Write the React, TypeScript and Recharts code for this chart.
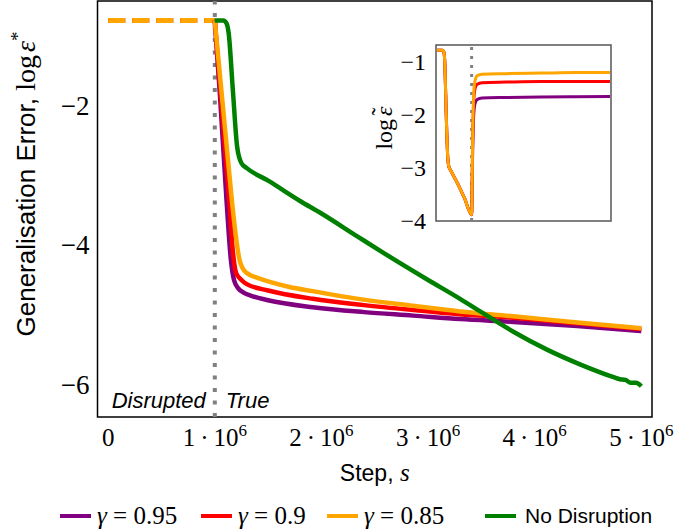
import React from 'react';
import { LineChart, Line, XAxis, YAxis, ReferenceLine, ReferenceArea, Label } from 'recharts';

// steps are in units of 10^6
const xTicks = [0, 1, 2, 3, 4, 5];
const yTicks = [-6, -4, -2];
const insetYTicks = [-4, -3, -2, -1];

// disrupted phase (same for every gamma)
const disruptedSteps = [0, 1];
const disruptedErr = [-0.79, -0.79];

// true phase, main plot
const gamma95Steps = [1.0, 1.05, 1.11, 1.15, 1.18, 1.22, 1.27, 1.35, 1.5, 1.92, 2.4, 2.86, 3.3, 3.8, 4.4, 5.0];
const gamma95Err = [-0.79, -1.9, -3.36, -4.2, -4.5, -4.62, -4.68, -4.73, -4.79, -4.89, -4.96, -5.01, -5.06, -5.1, -5.16, -5.23];

const gamma90Steps = [1.0, 1.05, 1.1, 1.135, 1.17, 1.2, 1.25, 1.3, 1.5, 1.92, 2.4, 2.86, 3.3, 3.8, 4.4, 5.0];
const gamma90Err = [-0.79, -1.75, -2.7, -3.36, -4.1, -4.4, -4.5, -4.56, -4.65, -4.77, -4.86, -4.93, -4.99, -5.04, -5.12, -5.2];

const gamma85Steps = [1.0, 1.05, 1.1, 1.16, 1.2, 1.23, 1.26, 1.3, 1.4, 1.5, 1.7, 1.92, 2.3, 2.86, 3.3, 3.8, 4.4, 5.0];
const gamma85Err = [-0.79, -1.6, -2.4, -3.36, -3.9, -4.2, -4.33, -4.4, -4.47, -4.52, -4.6, -4.66, -4.76, -4.87, -4.95, -5.02, -5.11, -5.19];

const noDisruptionSteps = [1.0, 1.08, 1.11, 1.13, 1.17, 1.21, 1.25, 1.3, 1.5, 1.8, 2.0, 2.34, 2.6, 3.0, 3.3, 3.5, 3.8, 4.12, 4.43, 4.74, 4.8, 4.85, 4.9, 4.95, 5.0];
const noDisruptionErr = [-0.79, -0.79, -0.83, -0.97, -1.8, -2.6, -2.83, -2.9, -3.08, -3.37, -3.55, -3.88, -4.13, -4.5, -4.77, -4.96, -5.24, -5.5, -5.71, -5.89, -5.92, -5.93, -5.97, -5.97, -6.02];

// inset: error w.r.t. the disrupted teacher
const insetDisSteps = [0, 0.15, 0.19, 0.22, 0.25, 0.28, 0.31, 0.34, 0.4, 0.6, 0.8, 1.0];
const insetDisErr = [-0.78, -0.78, -0.8, -0.95, -1.6, -2.3, -2.8, -2.97, -3.05, -3.3, -3.58, -3.88];
const insetTrueSteps = [1.0, 1.03, 1.06, 1.1, 1.16, 1.3, 2, 3, 4, 5];
const insetGamma95Err = [-3.88, -2.7, -2.0, -1.78, -1.71, -1.68, -1.67, -1.66, -1.655, -1.65];
const insetGamma90Err = [-3.88, -2.5, -1.75, -1.5, -1.42, -1.39, -1.38, -1.37, -1.37, -1.37];
const insetGamma85Err = [-3.88, -2.4, -1.6, -1.35, -1.26, -1.23, -1.22, -1.21, -1.2, -1.2];

const PURPLE = '#800080';
const RED = '#ff0000';
const ORANGE = '#ffa500';
const GREEN = '#008000';
const GREY = '#808080';
const SERIF = 'Liberation Serif, Times New Roman, serif';
const SANS = 'Liberation Sans, Arial, sans-serif';

const zip = (xs: number[], ys: number[]) => xs.map((s, i) => ({ s, e: ys[i] }));
const minus = (v: number) => (v < 0 ? '\u2212' + Math.abs(v) : String(v));

const XTick = (props: any) => {
  const { x, y, payload } = props;
  const v = payload.value;
  return (
    <text x={x} y={y + 21} textAnchor="middle" fontFamily={SERIF} fontSize={25} fill="#000">
      {v === 0 ? (
        '0'
      ) : (
        <>
          <tspan>{v}{'\u2009\u00b7\u2009'}10</tspan>
          <tspan dy={-10} fontSize={17}>6</tspan>
        </>
      )}
    </text>
  );
};

const YTick = (props: any) => {
  const { x, y, payload, size, shift } = props;
  return (
    <text x={x + (shift || 0)} y={y} dy="0.35em" textAnchor="end" fontFamily={SERIF} fontSize={size || 27} fill="#000">
      {minus(payload.value)}
    </text>
  );
};

const legendItems = [
  { value: '0.95', color: PURPLE, left: 60 },
  { value: '0.9', color: RED, left: 201 },
  { value: '0.85', color: ORANGE, left: 327 },
];

const App = () => {
  return (
    <div style={{ position: 'absolute', left: 0, top: 0, width: 695, height: 531, background: '#fff' }}>
      <LineChart width={695} height={531} margin={{ top: 1, right: 43, bottom: 74, left: 0 }}>
        <XAxis
          type="number"
          dataKey="s"
          domain={[-0.1, 5.1]}
          ticks={xTicks}
          allowDataOverflow
          axisLine={false}
          tickLine={false}
          height={40}
          tick={<XTick />}
          interval={0}
        >
          <Label
            content={(p: any) => {
              const vb = p.viewBox;
              return (
                <text x={vb.x + vb.width / 2} y={vb.y + 64} textAnchor="middle" fontSize={23} fill="#000">
                  <tspan fontFamily={SANS}>Step, </tspan>
                  <tspan fontFamily={SERIF} fontStyle="italic" fontSize={25}>s</tspan>
                </text>
              );
            }}
          />
        </XAxis>
        <YAxis
          type="number"
          dataKey="e"
          domain={[-6.46, -0.51]}
          ticks={yTicks}
          allowDataOverflow
          axisLine={false}
          tickLine={false}
          width={97.5}
          tick={<YTick />}
          interval={0}
        >
          <Label
            content={() => {
              const cx = 35;
              const cy = 184;
              return (
                <text x={cx} y={cy} transform={`rotate(-90, ${cx}, ${cy})`} textAnchor="middle" fontSize={26} fill="#000">
                  <tspan fontFamily={SANS}>Generalisation Error, </tspan>
                  <tspan fontFamily={SERIF} fontSize={28}>log</tspan>
                  <tspan fontFamily={SERIF} fontSize={28} fontStyle="italic" dx={3}>ε</tspan>
                  <tspan fontFamily={SERIF} fontSize={19} dy={-11}>*</tspan>
                </text>
              );
            }}
          />
        </YAxis>
        <ReferenceArea x1={-0.1} x2={5.1} y1={-6.46} y2={-0.51} fill="none" stroke="#000" strokeWidth={1.5} ifOverflow="visible" />
        <ReferenceLine
          x={1}
          stroke={GREY}
          strokeWidth={4}
          strokeDasharray="4 8.5"
          label={(p: any) => {
            const vb = p.viewBox;
            const y = vb.y + vb.height - 9;
            return (
              <g fontFamily={SANS} fontStyle="italic" fontSize={22} fill="#000">
                <text x={vb.x - 9} y={y} textAnchor="end">Disrupted</text>
                <text x={vb.x + 11} y={y} textAnchor="start">True</text>
              </g>
            );
          }}
        />
        <Line data={zip(disruptedSteps, disruptedErr)} dataKey="e" stroke={PURPLE} strokeWidth={5} strokeDasharray="17 7" dot={false} isAnimationActive={false} />
        <Line data={zip(disruptedSteps, disruptedErr)} dataKey="e" stroke={RED} strokeWidth={5} strokeDasharray="17 7" dot={false} isAnimationActive={false} />
        <Line data={zip(disruptedSteps, disruptedErr)} dataKey="e" stroke={ORANGE} strokeWidth={5} strokeDasharray="17 7" dot={false} isAnimationActive={false} />
        <Line data={zip(gamma95Steps, gamma95Err)} dataKey="e" type="monotone" stroke={PURPLE} strokeWidth={4.5} dot={false} isAnimationActive={false} />
        <Line data={zip(gamma90Steps, gamma90Err)} dataKey="e" type="monotone" stroke={RED} strokeWidth={4.5} dot={false} isAnimationActive={false} />
        <Line data={zip(gamma85Steps, gamma85Err)} dataKey="e" type="monotone" stroke={ORANGE} strokeWidth={4.5} dot={false} isAnimationActive={false} />
        <Line data={zip(noDisruptionSteps, noDisruptionErr)} dataKey="e" type="monotone" stroke={GREEN} strokeWidth={4.5} dot={false} isAnimationActive={false} />
      </LineChart>

      <div style={{ position: 'absolute', left: 345, top: 40 }}>
        <LineChart width={285} height={200} margin={{ top: 5, right: 19, bottom: 19, left: 0 }}>
          <XAxis type="number" dataKey="s" domain={[-0.03, 5.03]} hide allowDataOverflow />
          <YAxis
            type="number"
            dataKey="e"
            domain={[-4, -0.68]}
            ticks={insetYTicks}
            allowDataOverflow
            axisLine={false}
            tickLine={false}
            width={91}
            tick={<YTick size={24} shift={-2} />}
            interval={0}
          >
            <Label
              content={() => {
                const cx = 47;
                const cy = 88;
                return (
                  <text x={cx} y={cy} transform={`rotate(-90, ${cx}, ${cy})`} textAnchor="middle" fontFamily={SERIF} fontSize={24} fill="#000">
                    <tspan>log</tspan>
                    <tspan fontStyle="italic" dx={3}>ε</tspan>
                    <tspan dx={-9} dy={-4}>{'\u02dc'}</tspan>
                  </text>
                );
              }}
            />
          </YAxis>
          <ReferenceArea x1={-0.03} x2={5.03} y1={-4} y2={-0.68} fill="#fff" stroke="#555" strokeWidth={1.5} ifOverflow="visible" />
          <ReferenceLine x={1} stroke={GREY} strokeWidth={3} strokeDasharray="3 6" />
          <Line data={zip(insetDisSteps.concat(insetTrueSteps), insetDisErr.concat(insetGamma95Err))} dataKey="e" type="monotone" stroke={PURPLE} strokeWidth={3} dot={false} isAnimationActive={false} />
          <Line data={zip(insetDisSteps.concat(insetTrueSteps), insetDisErr.concat(insetGamma90Err))} dataKey="e" type="monotone" stroke={RED} strokeWidth={3} dot={false} isAnimationActive={false} />
          <Line data={zip(insetDisSteps.concat(insetTrueSteps), insetDisErr.concat(insetGamma85Err))} dataKey="e" type="monotone" stroke={ORANGE} strokeWidth={3} dot={false} isAnimationActive={false} />
        </LineChart>
      </div>

      {legendItems.map((it) => (
        <div
          key={it.value}
          style={{ position: 'absolute', left: it.left, top: 503, height: 26, display: 'flex', alignItems: 'center', whiteSpace: 'nowrap' }}
        >
          <span style={{ display: 'inline-block', width: 31, height: 4, background: it.color, marginRight: 6 }} />
          <span style={{ fontFamily: SERIF, fontSize: 25, color: '#000' }}>
            <i>γ</i> = {it.value}
          </span>
        </div>
      ))}
      <div style={{ position: 'absolute', left: 485, top: 503, height: 26, display: 'flex', alignItems: 'center', whiteSpace: 'nowrap' }}>
        <span style={{ display: 'inline-block', width: 31, height: 4, background: GREEN, marginRight: 9 }} />
        <span style={{ fontFamily: SANS, fontSize: 21, color: '#000' }}>No Disruption</span>
      </div>
    </div>
  );
};

export default App;
